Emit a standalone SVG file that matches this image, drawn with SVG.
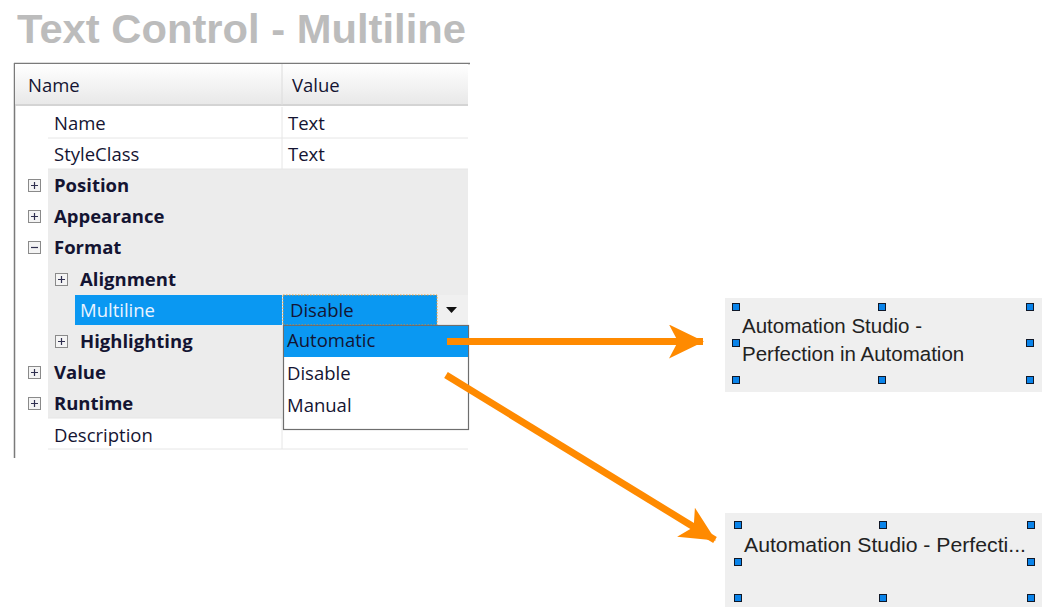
<svg xmlns="http://www.w3.org/2000/svg" width="1042" height="607" viewBox="0 0 1042 607">
<style>
.t{font-family:"Open Sans","Liberation Sans",sans-serif;font-size:18.5px;fill:#141432}
.b{font-weight:bold}
.w{fill:#eaf4ff}
.h{font-family:"Liberation Sans",Arial,sans-serif;font-size:20.5px;fill:#222}
.hd{fill:#0a84ea;stroke:#101828;stroke-width:1}
.sep{stroke:#e6e6e6;stroke-width:1}
.pb{fill:#f4f4f4;stroke:#8a8a8a;stroke-width:1}
.pl{stroke:#303050;stroke-width:1.2}
.arr{stroke:#ff8a00;stroke-width:7;fill:none;marker-end:url(#ah)}
</style>
<defs>
<linearGradient id="hg" x1="0" y1="0" x2="0" y2="1">
<stop offset="0" stop-color="#ffffff"/><stop offset="1" stop-color="#e8e8e8"/>
</linearGradient>
<marker id="ah" markerUnits="userSpaceOnUse" markerWidth="38" markerHeight="36" refX="34" refY="17" orient="auto" viewBox="0 0 38 36">
<path d="M0,0 L35,17 L0,34 L9,17 z" fill="#ff8a00"/>
</marker>
</defs>
<rect width="1042" height="607" fill="#ffffff"/>
<text id="title" x="17" y="43" font-family="Liberation Sans,Arial,sans-serif" font-weight="bold" font-size="41" fill="#bcbcbc" textLength="449" lengthAdjust="spacingAndGlyphs">Text Control - Multiline</text>

<g id="grid">
<line x1="14.5" y1="63" x2="14.5" y2="458" stroke="#7a7a7a" stroke-width="1.5"/>
<line x1="14" y1="63.5" x2="470" y2="63.5" stroke="#7a7a7a" stroke-width="1.5"/>
<rect x="15" y="64" width="453" height="41" fill="url(#hg)"/>
<line x1="15" y1="105" x2="468" y2="105" stroke="#d4d4d4" stroke-width="2"/>
<line x1="282" y1="64" x2="282" y2="105" stroke="#dcdcdc"/>
<text class="t" x="28" y="92">Name</text>
<text class="t" x="292" y="92">Value</text>
<rect x="48" y="169" width="420" height="249" fill="#ececec"/>
<line class="sep" x1="48" y1="138" x2="468" y2="138"/>
<line class="sep" x1="48" y1="169" x2="468" y2="169"/>
<line class="sep" x1="48" y1="418" x2="468" y2="418"/>
<line class="sep" x1="48" y1="449" x2="468" y2="449"/>
<line class="sep" x1="282" y1="107" x2="282" y2="169"/>
<line class="sep" x1="282" y1="418" x2="282" y2="449"/>
</g>

<g id="row-name"><text class="t" x="54" y="130">Name</text><text class="t" x="288" y="130">Text</text></g>
<g id="row-styleclass"><text class="t" x="54" y="161">StyleClass</text><text class="t" x="288" y="161">Text</text></g>
<g id="row-position"><rect class="pb" x="28.5" y="179.5" width="12" height="12"/><path class="pl" d="M31 185.5h7M34.5 182v7"/><text class="t b" x="54" y="192">Position</text></g>
<g id="row-appearance"><rect class="pb" x="28.5" y="210.5" width="12" height="12"/><path class="pl" d="M31 216.5h7M34.5 213v7"/><text class="t b" x="54" y="223">Appearance</text></g>
<g id="row-format"><rect class="pb" x="28.5" y="241.5" width="12" height="12"/><path class="pl" d="M31 247.5h7"/><text class="t b" x="54" y="254">Format</text></g>
<g id="row-alignment"><rect class="pb" x="55.5" y="273.5" width="12" height="12"/><path class="pl" d="M58 279.5h7M61.5 276v7"/><text class="t b" x="80" y="286">Alignment</text></g>
<g id="row-multiline">
<rect x="75" y="295" width="207" height="30" fill="#0a98f2"/>
<text class="t w" x="80" y="317">Multiline</text>
<rect x="283" y="295" width="154" height="30" fill="#0a98f2" stroke="#e89a3a" stroke-width="1" stroke-dasharray="1.5,1.5"/>
<text class="t" x="290" y="317">Disable</text>
<rect x="438" y="295" width="30" height="30" fill="#f0f0f0"/>
<path d="M446 307h11l-5.5 6z" fill="#111"/>
</g>
<g id="row-highlighting"><rect class="pb" x="55.5" y="335.5" width="12" height="12"/><path class="pl" d="M58 341.5h7M61.5 338v7"/><text class="t b" x="80" y="348">Highlighting</text></g>
<g id="row-value"><rect class="pb" x="28.5" y="366.5" width="12" height="12"/><path class="pl" d="M31 372.5h7M34.5 369v7"/><text class="t b" x="54" y="379">Value</text></g>
<g id="row-runtime"><rect class="pb" x="28.5" y="397.5" width="12" height="12"/><path class="pl" d="M31 403.5h7M34.5 400v7"/><text class="t b" x="54" y="410">Runtime</text></g>
<g id="row-description"><text class="t" x="54" y="442">Description</text></g>

<g id="dropdown-list">
<rect x="283.5" y="325.5" width="185" height="104" fill="#ffffff" stroke="#6e6e6e" stroke-width="1.2"/>
<rect x="284" y="326" width="184" height="31" fill="#0a98f2"/>
<text class="t" x="287" y="347" font-size="19.5">Automatic</text>
<text class="t" x="287" y="380" font-size="19.5">Disable</text>
<text class="t" x="287" y="412" font-size="19.5">Manual</text>
</g>

<g id="connectors">
<line class="arr" x1="447" y1="341.5" x2="703" y2="341.5"/>
<line class="arr" x1="446" y1="375" x2="715" y2="540"/>
</g>

<g id="preview-multiline">
<rect x="725" y="298" width="317" height="94" fill="#efefef"/>
<text class="h" x="742" y="333">Automation Studio -</text>
<text class="h" x="742" y="361">Perfection in Automation</text>
<rect class="hd" x="732.5" y="303.5" width="7" height="7"/>
<rect class="hd" x="878.5" y="303.5" width="7" height="7"/>
<rect class="hd" x="1026.5" y="303.5" width="7" height="7"/>
<rect class="hd" x="732.5" y="339.5" width="7" height="7"/>
<rect class="hd" x="1026.5" y="339.5" width="7" height="7"/>
<rect class="hd" x="732.5" y="376.5" width="7" height="7"/>
<rect class="hd" x="878.5" y="376.5" width="7" height="7"/>
<rect class="hd" x="1026.5" y="376.5" width="7" height="7"/>
</g>

<g id="preview-single">
<rect x="725" y="513" width="317" height="94" fill="#efefef"/>
<text class="h" x="744" y="552" textLength="282" lengthAdjust="spacingAndGlyphs">Automation Studio - Perfecti...</text>
<rect class="hd" x="734.5" y="521.5" width="7" height="7"/>
<rect class="hd" x="879.5" y="521.5" width="7" height="7"/>
<rect class="hd" x="1027.5" y="521.5" width="7" height="7"/>
<rect class="hd" x="734.5" y="558.5" width="7" height="7"/>
<rect class="hd" x="1027.5" y="558.5" width="7" height="7"/>
<rect class="hd" x="734.5" y="594.5" width="7" height="7"/>
<rect class="hd" x="879.5" y="594.5" width="7" height="7"/>
<rect class="hd" x="1027.5" y="594.5" width="7" height="7"/>
</g>
</svg>
